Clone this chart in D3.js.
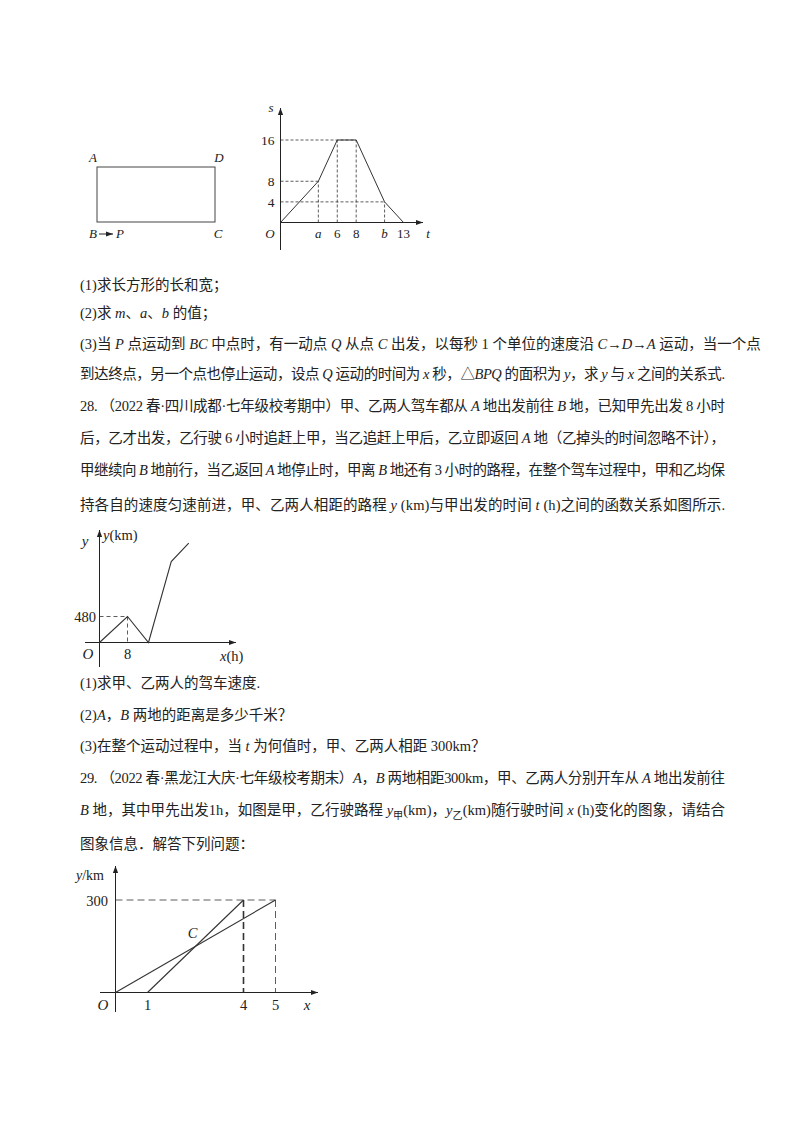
<!DOCTYPE html>
<html><head><meta charset="utf-8">
<script src="https://cdn.jsdelivr.net/npm/d3@7"></script>
<style>
body{margin:0;background:#fff}
text{font-family:"Liberation Serif","Noto Sans CJK SC",serif;fill:#222}
</style></head>
<body><svg id="page" width="800" height="1132"></svg>
<script>
// 图1: s-t 图像
var fig1T = [0, 4, 6, 8, 11, 13];
var fig1S = [0, 8, 16, 16, 4, 0];
var fig1TickT = [["a",4,true],["6",6,false],["8",8,false],["b",11,true],["13",13,false]];
var fig1TickS = [4, 8, 16];
// 图2: y-x 图像 (km, h)
var fig2X = [0, 8, 14, 20.5, 25.5];
var fig2Y = [0, 480, 0, 1495, 1835];
// 图3: 甲乙路程
var jiaX = [0, 5], jiaY = [0, 300];
var yiX = [1, 4], yiY = [0, 300];
var fig3TickX = [1, 4, 5];

var textLines = [
  [290, "(1)求长方形的长和宽；"],
  [318, "(2)求 _m_、_a_、_b_ 的值；"],
  [349, "(3)当 _P_ 点运动到 _BC_ 中点时，有一动点 _Q_ 从点 _C_ 出发，以每秒 1 个单位的速度沿 _C_→_D_→_A_ 运动，当一个点"],
  [379, "到达终点，另一个点也停止运动，设点 _Q_ 运动的时间为 _x_ 秒，△_BPQ_ 的面积为 _y_，求 _y_ 与 _x_ 之间的关系式."],
  [411, "28.  （2022 春·四川成都·七年级校考期中）甲、乙两人驾车都从 _A_ 地出发前往 _B_ 地，已知甲先出发 8 小时"],
  [443, "后，乙才出发，乙行驶 6 小时追赶上甲，当乙追赶上甲后，乙立即返回 _A_ 地（乙掉头的时间忽略不计），"],
  [475, "甲继续向 _B_ 地前行，当乙返回 _A_ 地停止时，甲离 _B_ 地还有 3 小时的路程，在整个驾车过程中，甲和乙均保"],
  [510, "持各自的速度匀速前进，甲、乙两人相距的路程 _y_ (km)与甲出发的时间 _t_ (h)之间的函数关系如图所示."],
  [688, "(1)求甲、乙两人的驾车速度."],
  [720, "(2)_A_，_B_ 两地的距离是多少千米？"],
  [751, "(3)在整个运动过程中，当 _t_ 为何值时，甲、乙两人相距 300km？"],
  [783, "29.  （2022 春·黑龙江大庆·七年级校考期末）_A_，_B_ 两地相距300km，甲、乙两人分别开车从 _A_ 地出发前往"],
  [815, "_B_ 地，其中甲先出发1h，如图是甲，乙行驶路程 _y_{甲}(km)，_y_{乙}(km)随行驶时间 _x_ (h)变化的图象，请结合"],
  [849, "图象信息．解答下列问题："]
];

var svg = d3.select("#page");

function richText(g, x, y, str, size, anchor) {
  var t = g.append("text").attr("x", x).attr("y", y)
    .attr("font-size", size).attr("text-anchor", anchor || "start");
  var parts = str.split(/(_[^_]*_|\{[^}]*\})/);
  var back = 0;
  parts.forEach(function (p) {
    if (!p) return;
    var s;
    if (p[0] === "_") s = t.append("tspan").attr("font-style", "italic").text(p.slice(1, -1));
    else if (p[0] === "{") {
      s = t.append("tspan").attr("font-size", size * 0.7).attr("dy", 4).text(p.slice(1, -1));
      back = -4; return;
    } else s = t.append("tspan").text(p);
    if (back) { s.attr("dy", back); back = 0; }
  });
  return t;
}

textLines.forEach(function (l) {
  var t = richText(svg, 80, l[0], l[1], 14.5);
  var w = t.node().getComputedTextLength();
  if (w > 600 && w < 680) t.attr("textLength", 645).attr("lengthAdjust", "spacing");
});

function arrow(g, x1, y1, x2, y2) {
  g.append("line").attr("x1", x1).attr("y1", y1).attr("x2", x2).attr("y2", y2)
    .attr("stroke", "#222").attr("stroke-width", 1);
  var a = Math.atan2(y2 - y1, x2 - x1), L = 7, W = 2.6;
  var p = [[x2, y2],
    [x2 - L * Math.cos(a) + W * Math.sin(a), y2 - L * Math.sin(a) - W * Math.cos(a)],
    [x2 - L * Math.cos(a) - W * Math.sin(a), y2 - L * Math.sin(a) + W * Math.cos(a)]];
  g.append("path").attr("d", "M" + p.join("L") + "Z").attr("fill", "#222");
}
function dash(g, x1, y1, x2, y2, da) {
  return g.append("line").attr("x1", x1).attr("y1", y1).attr("x2", x2).attr("y2", y2)
    .attr("stroke", "#333").attr("stroke-width", 0.8).attr("stroke-dasharray", da || "3,2");
}
function label(g, x, y, s, size, italic, anchor) {
  return g.append("text").attr("x", x).attr("y", y).attr("font-size", size)
    .attr("font-style", italic ? "italic" : null).attr("text-anchor", anchor || "middle").text(s);
}

// ---------- 图1 ----------
var g1 = svg.append("g");
g1.append("rect").attr("x", 97).attr("y", 167).attr("width", 118).attr("height", 55)
  .attr("fill", "none").attr("stroke", "#444").attr("stroke-width", 1);
label(g1, 93, 162, "A", 13, true);
label(g1, 219, 162, "D", 13, true);
label(g1, 93, 238, "B", 13, true);
label(g1, 218, 238, "C", 13, true);
arrow(g1, 99, 234, 113, 234);
label(g1, 120, 238, "P", 13, true);

var x1 = d3.scaleLinear().domain([0, 13]).range([280.5, 403.5]);
var y1 = d3.scaleLinear().domain([0, 16]).range([222.5, 140]);
arrow(g1, x1(0), y1(0), 423, y1(0));
g1.append("line").attr("x1", x1(0)).attr("x2", x1(0)).attr("y1", 250).attr("y2", 115)
  .attr("stroke", "#222");
arrow(g1, x1(0), 120, x1(0), 108);
label(g1, 271, 112, "s", 13, true);
label(g1, 428, 238, "t", 13, true);
label(g1, 270, 238, "O", 13, true);
fig1TickS.forEach(function (s) {
  var tx = s === 16 ? x1(8) : s === 8 ? x1(4) : x1(11);
  dash(g1, x1(0), y1(s), tx, y1(s));
  label(g1, x1(0) - 6, y1(s) + 5, s, 13.5, false, "end");
});
fig1TickT.forEach(function (d) {
  var i = fig1T.indexOf(d[1]);
  if (d[1] !== 13) dash(g1, x1(d[1]), y1(0), x1(d[1]), y1(fig1S[i]));
  label(g1, x1(d[1]), 238, d[0], 13, d[2]);
});
var line1 = d3.line().x(function (d) { return x1(d[0]); }).y(function (d) { return y1(d[1]); });
g1.append("path").datum(d3.zip(fig1T, fig1S)).attr("d", line1)
  .attr("fill", "none").attr("stroke", "#333").attr("stroke-width", 1);

// ---------- 图2 ----------
var g2 = svg.append("g");
var x2 = d3.scaleLinear().domain([0, 8]).range([99.5, 127.5]);
var y2 = d3.scaleLinear().domain([0, 480]).range([642.5, 616.5]);
arrow(g2, 85, y2(0), 236, y2(0));
g2.append("line").attr("x1", x2(0)).attr("x2", x2(0)).attr("y1", 667).attr("y2", 540).attr("stroke", "#222");
arrow(g2, x2(0), 545, x2(0), 530);
dash(g2, x2(0), y2(480), x2(8), y2(480), "4,3");
dash(g2, x2(8), y2(480), x2(8), y2(0), "4,3");
label(g2, 85, 546, "y", 15, true);
richText(g2, 103, 540, "_y_(km)", 14.5);
label(g2, 96, 622, "480", 14.5, false, "end");
label(g2, 88, 659, "O", 15, true);
label(g2, x2(8), 659, "8", 14.5, false);
richText(g2, 220, 661, "_x_(h)", 14.5);
var line2 = d3.line().x(function (d) { return x2(d[0]); }).y(function (d) { return y2(d[1]); });
g2.append("path").datum(d3.zip(fig2X, fig2Y)).attr("d", line2)
  .attr("fill", "none").attr("stroke", "#333").attr("stroke-width", 1.1);

// ---------- 图3 ----------
var g3 = svg.append("g");
var x3 = d3.scaleLinear().domain([0, 5]).range([115.5, 275.5]);
var y3 = d3.scaleLinear().domain([0, 300]).range([992.5, 900]);
arrow(g3, 100, y3(0), 318, y3(0));
g3.append("line").attr("x1", x3(0)).attr("x2", x3(0)).attr("y1", 1012).attr("y2", 875).attr("stroke", "#222");
arrow(g3, x3(0), 880, x3(0), 866);
dash(g3, x3(0), y3(300), x3(5), y3(300), "7,4");
dash(g3, x3(4), y3(300), x3(4), y3(0), "7,4").attr("stroke-width", 1.6);
dash(g3, x3(5), y3(300), x3(5), y3(0), "7,4");
richText(g3, 76, 880, "_y_/km", 14);
label(g3, 108, 906, "300", 14.5, false, "end");
label(g3, 103, 1010, "O", 15, true);
fig3TickX.forEach(function (v) { label(g3, x3(v), 1010, v, 14.5, false); });
label(g3, 307, 1010, "x", 15, true);
var line3 = d3.line().x(function (d) { return x3(d[0]); }).y(function (d) { return y3(d[1]); });
[d3.zip(jiaX, jiaY), d3.zip(yiX, yiY)].forEach(function (d) {
  g3.append("path").datum(d).attr("d", line3).attr("fill", "none")
    .attr("stroke", "#333").attr("stroke-width", 1.1);
});
label(g3, x3(2.5) - 3, y3(150) - 8, "C", 14.5, true);
</script></body></html>
